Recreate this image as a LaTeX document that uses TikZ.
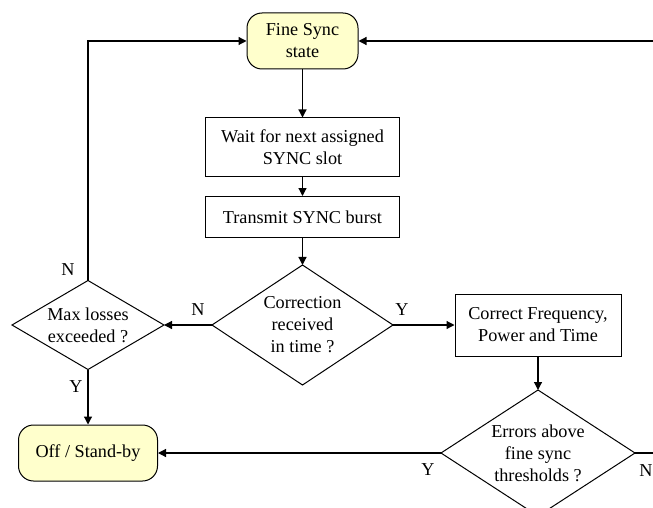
\documentclass[tikz,border=0pt]{standalone}
\usepackage{fontspec}
\setmainfont{Liberation Serif}
\usetikzlibrary{shapes.geometric,arrows.meta}
\definecolor{termfill}{RGB}{255,255,204}
\begin{document}
\begin{tikzpicture}[x=0.5pt,y=-0.5pt,
  every node/.style={font=\fontsize{9.1}{11}\selectfont},
  term/.style={draw, line width=0.5pt, rounded corners=7.5pt, fill=termfill, align=center, inner sep=0pt},
  proc/.style={draw, line width=0.5pt, align=center, inner sep=0pt},
  dec/.style={draw, line width=0.5pt, diamond, inner sep=0pt, outer sep=0pt},
  flow/.style={draw, line width=0.6pt, -{Triangle[length=4pt,width=4pt]}},
  lab/.style={inner sep=0pt}]
\path[use as bounding box] (0,0) rectangle (653,508);
\clip (0,0) rectangle (653,508);
\node[term, minimum width=55.5pt, minimum height=28pt] (fine) at (302.5,41) {Fine Sync\\state};
\node[proc, minimum width=97pt, minimum height=29pt] (wait) at (302.5,147) {Wait for next assigned\\SYNC slot};
\node[proc, minimum width=97pt, minimum height=20.5pt] (trans) at (302.5,217) {Transmit SYNC burst};
\node[dec, minimum width=90.5pt, minimum height=60pt,
  label={[align=center]center:Correction\\received\\in time ?}] (corr) at (302.5,325) {};
\node[dec, minimum width=76pt, minimum height=44.5pt,
  label={[align=center]center:Max losses\\exceeded ?}] (maxl) at (88,325) {};
\node[proc, minimum width=83pt, minimum height=31pt] (cfpt) at (538,325) {Correct Frequency,\\Power and Time};
\node[dec, minimum width=97pt, minimum height=63pt,
  label={[align=center]center:Errors above\\fine sync\\thresholds ?}] (err) at (538,453) {};
\node[term, minimum width=69.5pt, minimum height=28pt] (off) at (88,453) {Off / Stand-by};
\coordinate (rbot) at (690,453);
\coordinate (rtop) at (690,41);
\draw[flow] (fine) -- (wait);
\draw[flow] (wait) -- (trans);
\draw[flow] (trans) -- (corr);
\draw[flow] (corr.west) -- (maxl.east);
\draw[flow] (corr.east) -- (cfpt.west);
\draw[flow] (cfpt.south) -- (err.north);
\draw[flow] (maxl.north) |- (fine.west);
\draw[flow] (maxl.south) -- (off.north);
\draw[flow] (err.west) -- (off.east);
\draw[flow] (err.east) -- (rbot) -- (rtop) -- (fine.east);
\node[lab] (ln1) at (198,310) {N};
\node[lab] (ly1) at (402,310) {Y};
\node[lab] (ln2) at (68,270) {N};
\node[lab] (ly2) at (76,387) {Y};
\node[lab] (ly3) at (428,470) {Y};
\node[lab] (ln3) at (646,471) {N};
\end{tikzpicture}
\end{document}
